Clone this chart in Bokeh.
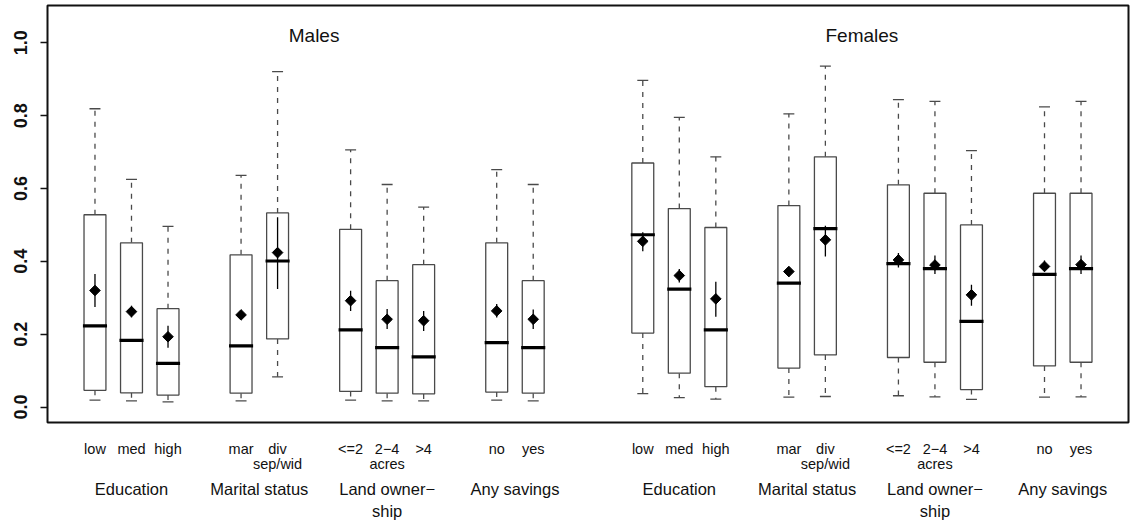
import numpy as np
from bokeh.plotting import figure
from bokeh.layouts import column
from bokeh.models import ColumnDataSource, Label, FixedTicker, Range1d, PrintfTickFormatter
from bokeh.core.properties import value
from bokeh.embed import file_html
from bokeh.resources import INLINE

# ---------------- data ----------------
categories = ["low", "med", "high", "mar", "div", "<=2", "2\u22124", ">4", "no", "yes"]
categories_line2 = ["", "", "", "", "sep/wid", "", "acres", "", "", ""]
group_names = ["Education", "Marital status", "Land owner\u2212", "Any savings"]
group_names_line2 = ["", "", "ship", ""]
group_members = [[0, 1, 2], [3, 4], [5, 6, 7], [8, 9]]
sex_titles = ["Males", "Females"]
positions_males = [1, 2, 3, 5, 6, 8, 9, 10, 12, 13]
positions_females = [16, 17, 18, 20, 21, 23, 24, 25, 27, 28]
y_ticks = [0.0, 0.2, 0.4, 0.6, 0.8, 1.0]

males_upper = [0.819, 0.625, 0.496, 0.636, 0.921, 0.706, 0.611, 0.549, 0.652, 0.611]
males_q3 = [0.528, 0.451, 0.270, 0.418, 0.533, 0.488, 0.347, 0.391, 0.451, 0.347]
males_median = [0.223, 0.183, 0.120, 0.168, 0.401, 0.212, 0.163, 0.138, 0.177, 0.163]
males_q1 = [0.046, 0.039, 0.033, 0.038, 0.187, 0.043, 0.038, 0.036, 0.041, 0.038]
males_lower = [0.019, 0.017, 0.014, 0.017, 0.083, 0.019, 0.017, 0.017, 0.019, 0.017]
males_mean = [0.320, 0.262, 0.193, 0.253, 0.424, 0.292, 0.241, 0.237, 0.264, 0.241]
males_ci_hi = [0.365, 0.278, 0.223, 0.263, 0.521, 0.319, 0.269, 0.264, 0.283, 0.268]
males_ci_lo = [0.275, 0.246, 0.163, 0.247, 0.324, 0.264, 0.214, 0.209, 0.246, 0.214]

females_upper = [0.897, 0.795, 0.687, 0.805, 0.936, 0.844, 0.839, 0.704, 0.824, 0.839]
females_q3 = [0.670, 0.545, 0.493, 0.553, 0.687, 0.610, 0.587, 0.500, 0.587, 0.587]
females_median = [0.473, 0.324, 0.212, 0.340, 0.490, 0.394, 0.380, 0.235, 0.364, 0.380]
females_q1 = [0.203, 0.093, 0.056, 0.107, 0.143, 0.136, 0.123, 0.048, 0.113, 0.123]
females_lower = [0.037, 0.026, 0.022, 0.027, 0.029, 0.031, 0.028, 0.021, 0.027, 0.028]
females_mean = [0.455, 0.361, 0.297, 0.372, 0.459, 0.404, 0.390, 0.308, 0.386, 0.391]
females_ci_hi = [0.480, 0.379, 0.344, 0.385, 0.498, 0.423, 0.416, 0.336, 0.402, 0.416]
females_ci_lo = [0.428, 0.342, 0.248, 0.358, 0.413, 0.383, 0.365, 0.278, 0.372, 0.365]

# ---------------- layout ----------------
W = 1131
H_MAIN, H_LABELS = 424, 102
MB_LEFT, MB_RIGHT, MB_TOP, MB_BOTTOM = 47, 3, 5, 2
X_LO, X_HI = -0.3, 29.3
Y_LO, Y_HI = -0.0424, 1.1024
BOX_W = 0.6
FONT = "Liberation Sans"
BOX_COLOR = "#4a4a4a"
TEXT_COLOR = "#111111"

pos = np.array(positions_males + positions_females, dtype=float)
src = ColumnDataSource(dict(
    x=pos,
    left=pos - BOX_W / 2,
    right=pos + BOX_W / 2,
    mleft=pos - BOX_W / 2 - 0.03,
    mright=pos + BOX_W / 2 + 0.03,
    cleft=pos - BOX_W / 4,
    cright=pos + BOX_W / 4,
    upper=males_upper + females_upper,
    q3=males_q3 + females_q3,
    median=males_median + females_median,
    q1=males_q1 + females_q1,
    lower=males_lower + females_lower,
    mean=males_mean + females_mean,
    ci_hi=males_ci_hi + females_ci_hi,
    ci_lo=males_ci_lo + females_ci_lo,
))

p = figure(width=W, height=H_MAIN, x_range=Range1d(X_LO, X_HI), y_range=Range1d(Y_LO, Y_HI),
           output_backend="svg", toolbar_location=None, x_axis_location=None,
           min_border_left=MB_LEFT, min_border_right=MB_RIGHT,
           min_border_top=MB_TOP, min_border_bottom=MB_BOTTOM)
p.xgrid.visible = False
p.ygrid.visible = False
p.outline_line_color = "#111111"
p.outline_line_width = 2
p.background_fill_color = "white"
p.border_fill_color = "white"

ax = p.yaxis[0]
ax.ticker = FixedTicker(ticks=y_ticks)
ax.formatter = PrintfTickFormatter(format="%.1f")
ax.major_label_orientation = "vertical"
ax.major_label_text_font = FONT
ax.major_label_text_font_style = "bold"
ax.major_label_text_font_size = "18px"
ax.major_label_text_color = TEXT_COLOR
ax.major_label_standoff = 13
ax.axis_line_color = None
ax.major_tick_out = 7
ax.major_tick_in = 0
ax.major_tick_line_width = 1.5
ax.major_tick_line_color = "#111111"
ax.minor_tick_line_color = None

# whiskers
p.segment(x0="x", x1="x", y0="q3", y1="upper", source=src, line_color=BOX_COLOR,
          line_width=1.3, line_dash="5 6")
p.segment(x0="x", x1="x", y0="q1", y1="lower", source=src, line_color=BOX_COLOR,
          line_width=1.3, line_dash="5 6")
# caps
p.segment(x0="cleft", x1="cright", y0="upper", y1="upper", source=src, line_color=BOX_COLOR, line_width=1.3)
p.segment(x0="cleft", x1="cright", y0="lower", y1="lower", source=src, line_color=BOX_COLOR, line_width=1.3)
# boxes
p.quad(left="left", right="right", top="q3", bottom="q1", source=src,
       fill_color="white", line_color=BOX_COLOR, line_width=1.3)
# medians
p.segment(x0="mleft", x1="mright", y0="median", y1="median", source=src,
          line_color="black", line_width=3.2)
# mean CI
p.segment(x0="x", x1="x", y0="ci_lo", y1="ci_hi", source=src, line_color="black", line_width=1.3)
# mean diamonds
p.scatter(x="x", y="mean", source=src, marker="square", size=7.5, angle=np.pi / 4,
          fill_color="black", line_color="black")

# sex titles
for title, ps in zip(sex_titles, [positions_males, positions_females]):
    p.add_layout(Label(x=(min(ps) + max(ps)) / 2, y=1.019, text=title, text_font=FONT,
                       text_font_size="19px", text_align="center", text_baseline="middle",
                       text_color=TEXT_COLOR))

# ---------------- labels strip below the plot ----------------
p2 = figure(width=W, height=H_LABELS, x_range=p.x_range, y_range=Range1d(H_LABELS, 0),
            output_backend="svg", toolbar_location=None, x_axis_location=None,
            y_axis_location=None, min_border_left=MB_LEFT, min_border_right=MB_RIGHT,
            min_border_top=0, min_border_bottom=0)
p2.xgrid.visible = False
p2.ygrid.visible = False
p2.outline_line_color = None

ROW_CAT1, ROW_CAT2, ROW_GRP1, ROW_GRP2 = 24.5, 39.5, 64.5, 86

cat_x, cat_y, cat_t = [], [], []
grp_x, grp_y, grp_t = [], [], []
for ps in [positions_males, positions_females]:
    for i, (c1, c2) in enumerate(zip(categories, categories_line2)):
        cat_x.append(ps[i]); cat_y.append(ROW_CAT1); cat_t.append(c1)
        if c2:
            cat_x.append(ps[i]); cat_y.append(ROW_CAT2); cat_t.append(c2)
    for g1, g2, members in zip(group_names, group_names_line2, group_members):
        gx = float(np.mean([ps[m] for m in members]))
        grp_x.append(gx); grp_y.append(ROW_GRP1); grp_t.append(g1)
        if g2:
            grp_x.append(gx); grp_y.append(ROW_GRP2); grp_t.append(g2)

p2.text(x=cat_x, y=cat_y, text=cat_t, text_font=value(FONT), text_font_size=value("14.5px"),
        text_align="center", text_baseline="middle", text_color=TEXT_COLOR)
p2.text(x=grp_x, y=grp_y, text=grp_t, text_font=value(FONT), text_font_size=value("16.5px"),
        text_align="center", text_baseline="middle", text_color=TEXT_COLOR)

layout = column(p, p2, spacing=0)
open("out.html", "w").write(file_html(layout, INLINE))
